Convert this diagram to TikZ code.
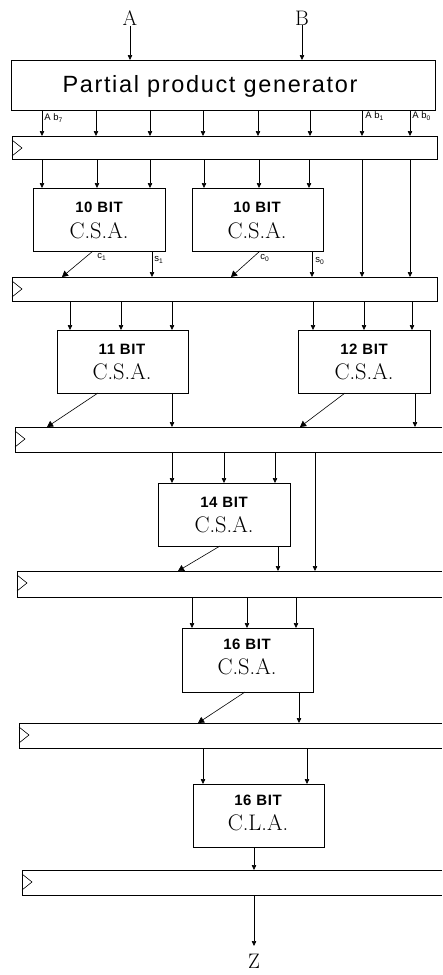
\documentclass[tikz,border=0pt]{standalone}
\usepackage{fontspec}
\newfontfamily\sansf{Liberation Sans}
\newfontfamily\ppgf[LetterSpace=7]{Liberation Sans}
\newfontfamily\bitf[LetterSpace=4]{Liberation Sans}
\usetikzlibrary{arrows.meta}
\begin{document}
\begin{tikzpicture}[x=1pt,y=-1pt,
  line width=0.6pt,
  blk/.style={draw, anchor=north west, inner sep=0pt, outer sep=0pt},
  regbox/.style={draw=none, anchor=north west, inner sep=0pt, outer sep=0pt, minimum width=#1},
  arr/.style={-{Triangle[length=5pt,width=4.5pt]}},
  darr/.style={-{Triangle[length=6pt,width=6.5pt]}},
  bitlbl/.style={font=\bitf\bfseries\fontsize{15}{16}\selectfont, inner sep=0pt},
  csalbl/.style={font=\fontsize{22.5}{24}\selectfont, inner sep=0pt},
  sig/.style={font=\sansf\fontsize{9.5}{10}\selectfont, inner sep=0pt, anchor=west},
  io/.style={font=\fontsize{21}{22}\selectfont, inner sep=0pt}
]
\useasboundingbox (0,0) rectangle (442,975);

% ---------- inputs ----------
\node[io] (A) at (130,18) {A};
\node[io] (B) at (302,18) {B};

% ---------- partial product generator ----------
\node[blk, minimum width=424pt, minimum height=50pt] (ppg) at (11,60) {};
\node[font=\ppgf\fontsize{23.5}{26}\selectfont, inner sep=0pt] (ppgt) at (210,86) {Partial product generator};
\draw[arr] (A) -- (ppg.north -| A);
\draw[arr] (B) -- (ppg.north -| B);

% ---------- registers ----------
\node[blk, minimum width=425pt, minimum height=23pt] (r1) at (12,136) {};
\node[blk, minimum width=425pt, minimum height=24pt] (r2) at (12,277) {};
\node[regbox=427pt, minimum height=25pt] (r3) at (15,427) {};
\node[regbox=425pt, minimum height=26pt] (r4) at (17,571) {};
\node[regbox=423pt, minimum height=25pt] (r5) at (19,723) {};
\node[regbox=420pt, minimum height=25pt] (r6) at (22,870) {};
\foreach \r in {r3,r4,r5,r6}{
  \draw (\r.north east) -- (\r.north west) -- (\r.south west) -- (\r.south east);
}
\foreach \r in {r1,r2,r3,r4,r5,r6}{
  \draw (\r.north west) ++(0,4) -- ++(10,8) -- ++(-10,8);
}

% ---------- PPG outputs ----------
\foreach \x in {42,96,150,203,258,310,362,410}{
  \draw[arr] (ppg.south -| \x,0) -- (r1.north -| \x,0);
}
\node[sig] (l7) at (44,118) {A b\textsubscript{7}};
\node[sig] (l1) at (365,116) {A b\textsubscript{1}};
\node[sig] (l0) at (412,116) {A b\textsubscript{0}};

% ---------- stage 1 ----------
\node[blk, minimum width=132pt, minimum height=63pt] (csa1) at (33,188) {};
\node[blk, minimum width=131pt, minimum height=63pt] (csa2) at (192,188) {};
\node[bitlbl] (t1a) at (99,207) {10 BIT};
\node[csalbl] (t1b) at (99,231) {C.S.A.};
\node[bitlbl] (t2a) at (257,207) {10 BIT};
\node[csalbl] (t2b) at (257,231) {C.S.A.};
\foreach \x in {42,97,150}{\draw[arr] (r1.south -| \x,0) -- (csa1.north -| \x,0);}
\foreach \x in {204,259,309}{\draw[arr] (r1.south -| \x,0) -- (csa2.north -| \x,0);}
\foreach \x in {362,410}{\draw[arr] (r1.south -| \x,0) -- (r2.north -| \x,0);}
\draw[darr] (csa1.south -| 93,0) -- (r2.north -| 62,0);
\draw[arr] (csa1.south -| 152,0) -- (r2.north -| 152,0);
\draw[darr] (csa2.south -| 260,0) -- (r2.north -| 231,0);
\draw[arr] (csa2.south -| 312,0) -- (r2.north -| 312,0);
\node[sig] (lc1) at (97,257) {c\textsubscript{1}};
\node[sig] (ls1) at (154,260) {s\textsubscript{1}};
\node[sig] (lc0) at (260,258) {c\textsubscript{0}};
\node[sig] (ls0) at (315,261) {s\textsubscript{0}};

% ---------- stage 2 ----------
\node[blk, minimum width=131pt, minimum height=63pt] (csa3) at (57,330) {};
\node[blk, minimum width=132pt, minimum height=63pt] (csa4) at (298,330) {};
\node[bitlbl] (t3a) at (122,349) {11 BIT};
\node[csalbl] (t3b) at (122,372) {C.S.A.};
\node[bitlbl] (t4a) at (364,349) {12 BIT};
\node[csalbl] (t4b) at (364,372) {C.S.A.};
\foreach \x in {70,121,172}{\draw[arr] (r2.south -| \x,0) -- (csa3.north -| \x,0);}
\foreach \x in {313,364,412}{\draw[arr] (r2.south -| \x,0) -- (csa4.north -| \x,0);}
\draw[darr] (csa3.south -| 98,0) -- (r3.north -| 47,0);
\draw[arr] (csa3.south -| 172,0) -- (r3.north -| 172,0);
\draw[darr] (csa4.south -| 345,0) -- (r3.north -| 300,0);
\draw[arr] (csa4.south -| 415,0) -- (r3.north -| 415,0);

% ---------- stage 3 ----------
\node[blk, minimum width=132pt, minimum height=63pt] (csa5) at (158,483) {};
\node[bitlbl] (t5a) at (224,502) {14 BIT};
\node[csalbl] (t5b) at (224,525) {C.S.A.};
\foreach \x in {172,224,275}{\draw[arr] (r3.south -| \x,0) -- (csa5.north -| \x,0);}
\draw[arr] (r3.south -| 315,0) -- (r4.north -| 315,0);
\draw[darr] (csa5.south -| 220,0) -- (r4.north -| 178,0);
\draw[arr] (csa5.south -| 278,0) -- (r4.north -| 278,0);

% ---------- stage 4 ----------
\node[blk, minimum width=131pt, minimum height=64pt] (csa6) at (182,628) {};
\node[bitlbl] (t6a) at (247,644) {16 BIT};
\node[csalbl] (t6b) at (247,667) {C.S.A.};
\foreach \x in {192,247,296}{\draw[arr] (r4.south -| \x,0) -- (csa6.north -| \x,0);}
\draw[darr] (csa6.south -| 245,0) -- (r5.north -| 198,0);
\draw[arr] (csa6.south -| 299,0) -- (r5.north -| 299,0);

% ---------- CLA ----------
\node[blk, minimum width=131pt, minimum height=63pt] (cla) at (193,784) {};
\node[bitlbl] (t7a) at (258,800) {16 BIT};
\node[csalbl] (t7b) at (258,823) {C.L.A.};
\foreach \x in {203,307}{\draw[arr] (r5.south -| \x,0) -- (cla.north -| \x,0);}
\draw[arr] (cla.south -| 254,0) -- (r6.north -| 254,0);

% ---------- output ----------
\node[io] (Z) at (254,961) {Z};
\coordinate (zend) at (254,946);
\draw[arr] (r6.south -| zend) -- (zend);
\end{tikzpicture}
\end{document}
